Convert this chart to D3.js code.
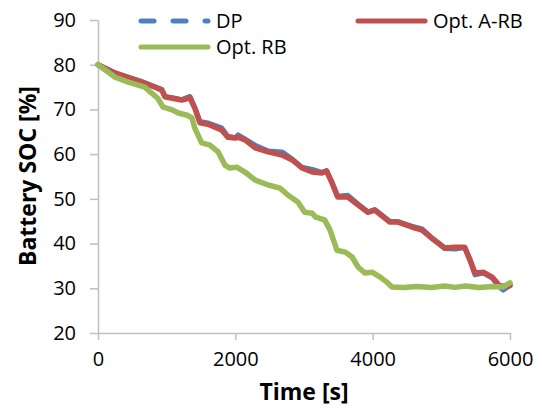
<!DOCTYPE html>
<html>
<head>
<meta charset="utf-8">
<script src="https://cdn.jsdelivr.net/npm/d3@7"></script>
<style>
  body { margin: 0; background: #fff; }
  svg { display: block; font-family: 'Open Sans', sans-serif; }
</style>
</head>
<body>
<svg id="chart" width="542" height="419"></svg>
<script>
// time [s] and SOC [%]
const dp_time = [0, 250, 640, 860, 930, 975, 1080, 1220, 1340, 1410, 1485, 1600, 1800, 1890, 2000, 2040, 2140, 2290, 2480, 2680, 2830, 2970, 3120, 3260, 3330, 3410, 3490, 3640, 3790, 3930, 4030, 4250, 4370, 4570, 4720, 4860, 5050, 5200, 5340, 5420, 5490, 5610, 5740, 5850, 5900, 5970, 6000]
const dp_soc = [80.0, 78.2, 76.2, 74.9, 74.5, 72.9, 72.6, 72.2, 72.9, 70.4, 67.3, 67.0, 65.9, 64.0, 63.7, 64.3, 63.4, 62.0, 60.7, 60.5, 58.9, 57.1, 56.6, 55.9, 56.3, 53.6, 50.6, 50.8, 48.8, 47.1, 47.6, 45.0, 44.9, 43.9, 43.3, 41.3, 38.9, 38.8, 39.1, 36.1, 33.0, 33.4, 32.3, 30.2, 29.6, 30.3, 30.8]

const arb_time = [0, 250, 640, 860, 930, 975, 1080, 1220, 1340, 1410, 1485, 1600, 1800, 1890, 2000, 2040, 2140, 2290, 2480, 2680, 2830, 2970, 3120, 3260, 3330, 3410, 3490, 3640, 3790, 3930, 4030, 4250, 4370, 4570, 4720, 4860, 5050, 5200, 5340, 5420, 5490, 5610, 5740, 5850, 5970, 6000]
const arb_soc = [80.0, 78.1, 76.1, 74.8, 74.3, 72.8, 72.5, 72.1, 72.6, 70.3, 67.0, 66.7, 65.4, 63.8, 63.6, 63.8, 63.2, 61.4, 60.5, 59.8, 58.7, 56.9, 56.0, 55.8, 56.2, 53.5, 50.4, 50.4, 48.6, 47.0, 47.5, 44.8, 44.8, 43.7, 43.0, 41.2, 39.0, 39.2, 39.2, 36.3, 33.4, 33.6, 32.5, 30.5, 30.5, 30.6]

const rb_time = [0, 250, 440, 680, 760, 870, 950, 1080, 1170, 1300, 1370, 1410, 1510, 1630, 1750, 1850, 1920, 2020, 2140, 2290, 2480, 2650, 2770, 2910, 3010, 3120, 3170, 3300, 3380, 3480, 3600, 3700, 3790, 3890, 3990, 4110, 4220, 4280, 4450, 4650, 4850, 5050, 5200, 5350, 5550, 5750, 5900, 6000]
const rb_soc = [80.0, 77.2, 76.1, 75.0, 73.9, 72.5, 70.5, 69.9, 69.2, 68.7, 68.1, 65.8, 62.5, 62.0, 60.5, 57.5, 56.9, 57.1, 56.0, 54.2, 53.1, 52.4, 50.8, 49.3, 47.0, 46.8, 45.9, 45.3, 43.0, 38.5, 38.1, 37.0, 34.7, 33.4, 33.6, 32.5, 31.2, 30.3, 30.2, 30.4, 30.2, 30.5, 30.2, 30.5, 30.2, 30.4, 30.3, 31.2]

const x_ticks = [0, 2000, 4000, 6000]
const y_ticks = [20, 30, 40, 50, 60, 70, 80, 90]

const colors = { dp: '#4f81bd', arb: '#c0504d', rb: '#9bbb59', axis: '#bfbfbf' }

const svg = d3.select('#chart')

const x = d3.scaleLinear().domain([0, 6000]).range([98, 510])
const y = d3.scaleLinear().domain([20, 90]).range([333, 20])

// Axes
let x_axis = svg.append('g')
  .attr('transform', `translate(0, ${y(20)})`)
  .call(d3.axisBottom(x).tickValues(x_ticks).tickFormat(d3.format('d'))
    .tickSize(7).tickPadding(12).tickSizeOuter(0))
let y_axis = svg.append('g')
  .attr('transform', `translate(${x(0)}, 0)`)
  .call(d3.axisLeft(y).tickValues(y_ticks).tickSize(8).tickPadding(14).tickSizeOuter(0))

for (let ax of [x_axis, y_axis]) {
  ax.select('.domain').attr('stroke', colors.axis).attr('stroke-width', 1.5)
  ax.selectAll('.tick line').attr('stroke', colors.axis).attr('stroke-width', 1.5)
  ax.selectAll('.tick text')
    .attr('fill', '#000')
    .style('font-family', "'Open Sans', sans-serif")
    .style('font-size', '20px')
}

// Axis titles
svg.append('text')
  .attr('x', 304).attr('y', 400)
  .attr('text-anchor', 'middle')
  .style('font-size', '23px').style('font-weight', 'bold')
  .text('Time [s]')

svg.append('text')
  .attr('transform', 'translate(36, 176) rotate(-90)')
  .attr('text-anchor', 'middle')
  .style('font-size', '23px').style('font-weight', 'bold')
  .text('Battery SOC [%]')

// Series
const line = d3.line().x(d => x(d[0])).y(d => y(d[1]))
const series = [
  { key: 'dp', t: dp_time, v: dp_soc, width: 5 },
  { key: 'arb', t: arb_time, v: arb_soc, width: 5.5 },
  { key: 'rb', t: rb_time, v: rb_soc, width: 5.5 }
]
for (let s of series) {
  svg.append('path')
    .datum(d3.zip(s.t, s.v))
    .attr('d', line)
    .attr('fill', 'none')
    .attr('stroke', colors[s.key])
    .attr('stroke-width', s.width)
    .attr('stroke-linejoin', 'round')
    .attr('stroke-linecap', 'round')
}

// Legend
const legend = [
  { key: 'dp', label: 'DP', x0: 141, y0: 21, dash: '13,19' },
  { key: 'arb', label: 'Opt. A-RB', x0: 358, y0: 21, dash: null },
  { key: 'rb', label: 'Opt. RB', x0: 141, y0: 47, dash: null }
]
for (let l of legend) {
  svg.append('line')
    .attr('x1', l.x0).attr('x2', l.x0 + 67)
    .attr('y1', l.y0).attr('y2', l.y0)
    .attr('stroke', colors[l.key])
    .attr('stroke-width', 5)
    .attr('stroke-linecap', 'round')
    .attr('stroke-dasharray', l.dash)
  svg.append('text')
    .attr('x', l.x0 + 75).attr('y', l.y0)
    .attr('dy', '0.35em')
    .style('font-size', '20px')
    .text(l.label)
}
</script>
</body>
</html>
